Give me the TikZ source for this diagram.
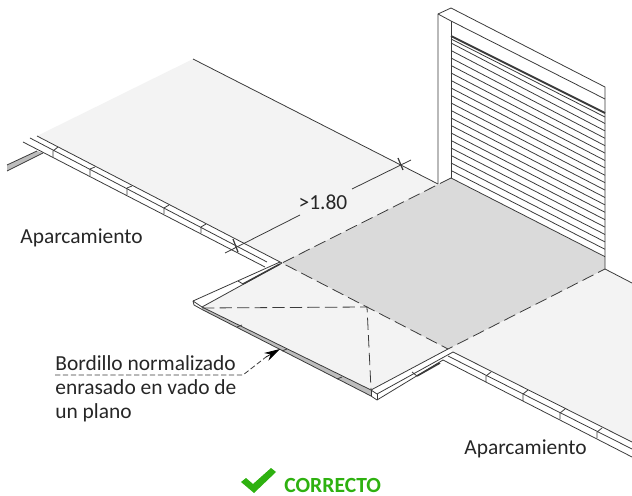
\documentclass[tikz,border=0pt]{standalone}
\usepackage{fontspec}
\setmainfont{Carlito}
\usetikzlibrary{arrows.meta}
\definecolor{suelo}{HTML}{F3F3F3}
\definecolor{vado}{HTML}{DADADA}
\definecolor{banda}{HTML}{BDBDBD}
\definecolor{linea}{HTML}{3A3A3A}
\definecolor{verde}{HTML}{2EB110}
\tikzset{
  edge/.style={draw=linea, line width=.45pt},
  cut/.style={draw=linea, line width=.45pt, dash pattern=on 7pt off 3pt},
  label/.style={font=\fontsize{12.2}{14}\selectfont, text=black!85, inner sep=0pt},
}
\begin{document}
\begin{tikzpicture}[x=.02cm, y=-.02cm]
  \useasboundingbox (0,0) rectangle (632,496);

  % suelo
  \fill[suelo] (193,59) -- (438,184) -- (451,178) -- (282,263) -- (37,136) -- cycle;
  \fill[suelo] (282,263) -- (448,349) -- (371,390) -- (202,307) -- cycle;
  \fill[suelo] (605,269) -- (632,283) -- (632,442) -- (453,352) -- (448,349) -- cycle;
  \fill[vado] (451,178) -- (605,257) -- (605,269) -- (448,349) -- (282,263) -- cycle;
  \draw[edge] (193,59) -- (438,184);
  \draw[edge] (605,269) -- (632,283);

  % muro y persiana
  \draw[edge] (438,184) -- (438,14) -- (451,8) -- (605,87) -- (605,269);
  \draw[edge] (438,14) -- (451,21) -- (605,99);
  \draw[edge] (451,21) -- (451,178);
  \draw[draw=linea, line width=1.1pt] (451,36) -- (605,113);
  \draw[edge] (451,39) -- (605,117);
  \foreach \i in {0,...,18}
    \draw[edge] (451,43+7.5*\i) -- (605,123.5+7.4*\i);

  % acera izquierda
  \fill[banda] (7,165) -- (37,151) -- (43,153) -- (7,171) -- cycle;
  \draw[edge] (7,165) -- (37,151);
  \draw[edge] (7,171) -- (43,153);
  \draw[edge] (37,136) -- (282,263);
  \draw[edge] (30,138) -- (267,262);
  \draw[edge] (23,142) -- (265,267);
  \foreach \x/\a/\b/\c in {53/157/151/147, 90/176/169/167, 127/195/188/186, 164/214/208/205, 201/233/227/224}
    \draw[edge] (\x,\a) -- (\x,\b) -- (\x+5,\c);

  % acera derecha
  \draw[edge] (453,352) -- (632,442);
  \draw[edge] (448,356) -- (632,449);
  \draw[edge] (443,360) -- (632,457);
  \foreach \x/\a/\b/\c in {486/382/376/372, 523/401/394/390, 560/419/413/409, 597/438/432/428}
    \draw[edge] (\x,\a) -- (\x,\b) -- (\x+5,\c);

  % vado
  \fill[banda] (202,307) -- (371,390) -- (371,396) -- (203,310) -- cycle;
  \draw[edge] (193,301) -- (280,262);
  \draw[edge] (282,263) -- (202,307) -- (371,390) -- (448,349);
  \draw[edge] (193,301) -- (194,305) -- (203,310) -- (371,396) -- (377,400) -- (443,360);
  \draw[edge] (193,301) -- (202,307);
  \draw[edge] (371,390) -- (377,394) -- (453,352);
  \draw[edge] (371,390) -- (371,396);
  \draw[edge] (377,394) -- (377,400);
  \draw[draw=linea, line width=.9pt] (243,284) -- (280,264);
  \draw[draw=linea, line width=.9pt] (417,376) -- (440,363);
  \draw[edge] (238,281) -- (243,284);
  \draw[edge] (412,372) -- (417,376);
  \foreach \x/\y in {237/327, 282/351, 337/379}
    \draw[edge] (\x,\y) -- (\x+5,\y-2);

  % lineas de corte
  \draw[cut] (451,178) -- (282,263) -- (448,349) -- (605,269);
  \draw[cut] (202,308) -- (367,307) -- (371,389);

  % cota
  \coordinate (cotaA) at (225,253);
  \coordinate (cotaB) at (411,160);
  \node[label] (cota) at (323,202) {>1.80};
  \draw[edge] (cotaA) -- (300,215);
  \draw[edge] (352,189) -- (cotaB);
  \draw[edge, line width=.7pt] (233,239) -- (238,252);
  \draw[edge, line width=.7pt] (398,158) -- (403,170);

  % textos
  \node[label, anchor=west] (aparcaA) at (20,238) {Aparcamiento};
  \node[label, anchor=west] (aparcaB) at (464,449) {Aparcamiento};
  \node[label, anchor=north west, align=left, font=\fontsize{12.2}{13.6}\selectfont] (bordillo) at (55,355)
    {Bordillo normalizado\\enrasado en vado de\\un plano};

  % flecha
  \coordinate (flechaA) at (55,375);
  \coordinate (flechaB) at (243,375);
  \coordinate (flechaC) at (266,357);
  \coordinate (flechaD) at (280,349);
  \draw[edge, dash pattern=on 3pt off 1.5pt] (flechaA) -- (flechaB) -- (flechaC);
  \draw[edge, -{Stealth[length=9pt,width=5pt]}, black] (flechaC) -- (flechaD);

  % correcto
  \fill[verde] (241,482) -- (246,478) -- (253,484) -- (271,468) -- (276,472) -- (254,493) -- cycle;
  \node[label, anchor=west, text=verde, font=\fontsize{12.3}{14}\bfseries] (correcto) at (284,485) {CORRECTO};
\end{tikzpicture}
\end{document}
